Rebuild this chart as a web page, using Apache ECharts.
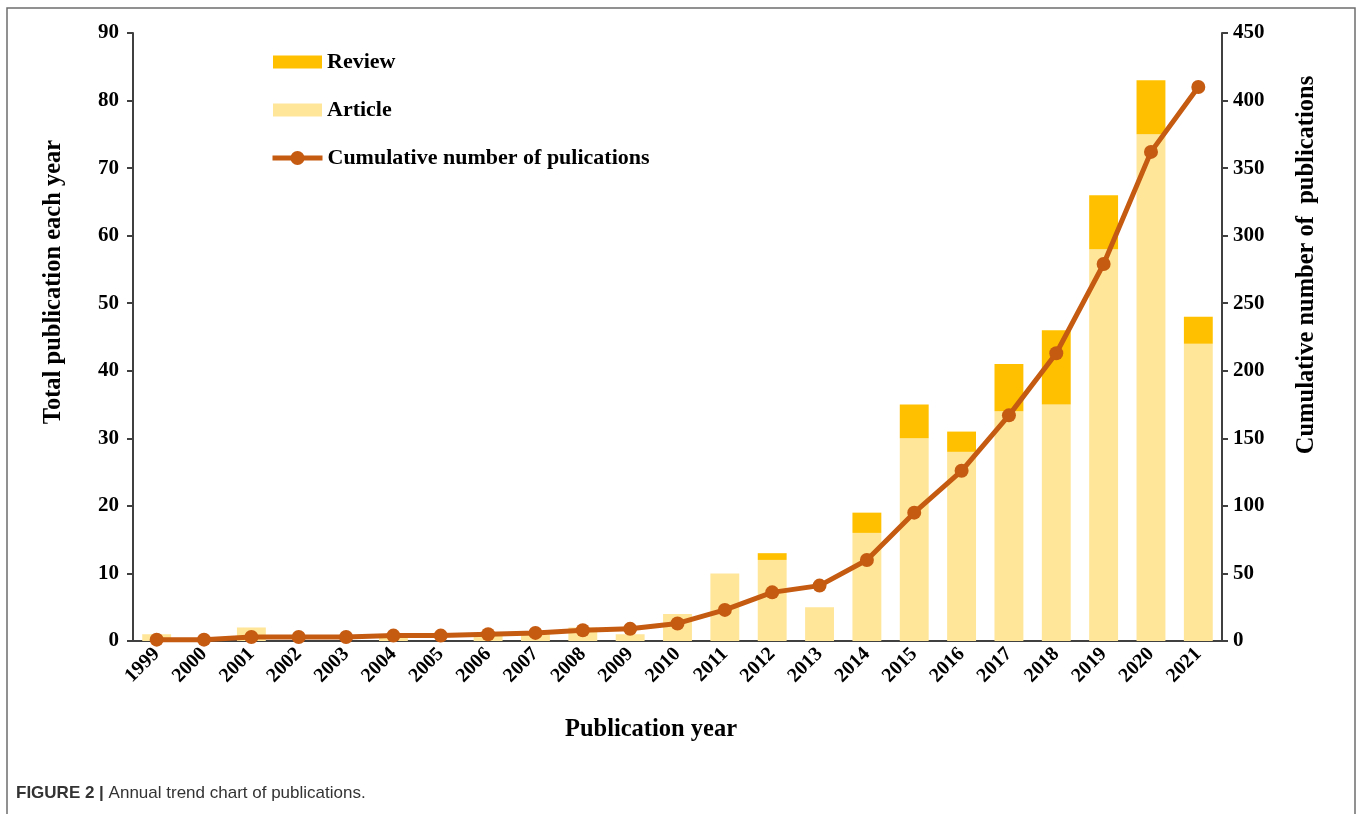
<!DOCTYPE html>
<html><head><meta charset="utf-8">
<script src="https://cdn.jsdelivr.net/npm/echarts@6/dist/echarts.min.js"></script>
<style>html,body{margin:0;padding:0;background:#fff}#c{width:1358px;height:814px}</style>
</head><body><div id="c"></div>
<script>
const years = ['1999','2000','2001','2002','2003','2004','2005','2006','2007','2008','2009','2010','2011','2012','2013','2014','2015','2016','2017','2018','2019','2020','2021'];
const article = [1,0,2,0,0,1,0,1,1,2,1,4,10,12,5,16,30,28,34,35,58,75,44];
const review  = [0,0,0,0,0,0,0,0,0,0,0,0,0,1,0,3,5,3,7,11,8,8,4];
const cumulative = [1,1,3,3,3,4,4,5,6,8,9,13,23,36,41,60,95,126,167,213,279,362,410];
const leftTicks = [0,90,10];
const rightTicks = [0,450,50];

const serif = '"Liberation Serif","Times New Roman",serif';
const axisCol = '#404040';
const legendText = {fontFamily:serif,fontWeight:'bold',fontSize:22,color:'#000'};
const chart = echarts.init(document.getElementById('c'));
chart.setOption({
  animation:false,
  backgroundColor:'#fff',
  grid:{left:133,right:136,top:33,bottom:173,containLabel:false},
  legend:[
    {orient:'vertical', left:273, top:51, padding:0, itemGap:26, itemWidth:49, itemHeight:13,
     textStyle:legendText,
     data:[{name:'Review',icon:'rect'},{name:'Article',icon:'rect'}]},
    {orient:'vertical', left:270, top:147, padding:0, itemWidth:50, itemHeight:17.5,
     textStyle:legendText,
     lineStyle:{width:5},
     data:[{name:'Cumulative number of pulications'}]}
  ],
  xAxis:{
    type:'category', data:years,
    axisLine:{lineStyle:{color:axisCol,width:2}},
    axisTick:{alignWithLabel:true,length:6,lineStyle:{color:axisCol,width:2}},
    axisLabel:{rotate:45,interval:0,fontFamily:serif,fontWeight:'bold',fontSize:20,color:'#000',margin:10}
  },
  yAxis:[
    {type:'value',min:leftTicks[0],max:leftTicks[1],interval:leftTicks[2],
     splitLine:{show:false},
     axisLine:{show:true,lineStyle:{color:axisCol,width:2}},
     axisTick:{show:true,length:6,lineStyle:{color:axisCol,width:2}},
     axisLabel:{fontFamily:serif,fontWeight:'bold',fontSize:21,color:'#000',margin:14}},
    {type:'value',min:rightTicks[0],max:rightTicks[1],interval:rightTicks[2],position:'right',
     splitLine:{show:false},
     axisLine:{show:true,lineStyle:{color:axisCol,width:2}},
     axisTick:{show:true,length:6,lineStyle:{color:axisCol,width:2}},
     axisLabel:{fontFamily:serif,fontWeight:'bold',fontSize:21,color:'#000',margin:11}}
  ],
  series:[
    {name:'Article',type:'bar',stack:'t',data:article,barWidth:'61%',itemStyle:{color:'#FFE699'}},
    {name:'Review',type:'bar',stack:'t',data:review,barWidth:'61%',itemStyle:{color:'#FFC000'}},
    {name:'Cumulative number of pulications',type:'line',yAxisIndex:1,data:cumulative,
     symbol:'circle',symbolSize:14,lineStyle:{color:'#C55A11',width:5},itemStyle:{color:'#C55A11'},z:5}
  ],
  graphic:[
    {type:'rect',shape:{x:7,y:8,width:1348,height:820},style:{fill:'none',stroke:'#6e6e6e',lineWidth:1.5},silent:true},
    {type:'text',x:54,y:282,rotation:Math.PI/2,style:{text:'Total publication each year',font:'bold 24.5px '+serif,fill:'#000',textAlign:'center',textVerticalAlign:'middle'}},
    {type:'text',x:1307,y:265,rotation:Math.PI/2,style:{text:'Cumulative number of  publications',font:'bold 24.5px '+serif,fill:'#000',textAlign:'center',textVerticalAlign:'middle'}},
    {type:'text',x:651,y:730,style:{text:'Publication year',font:'bold 24.5px '+serif,fill:'#000',textAlign:'center',textVerticalAlign:'middle'}},
    {type:'text',x:16,y:793,style:{rich:{b:{fontFamily:'"Liberation Sans",Arial,sans-serif',fontWeight:'bold',fontSize:17,fill:'#333'},n:{fontFamily:'"Liberation Sans",Arial,sans-serif',fontSize:17,fill:'#333'}},text:'{b|FIGURE 2 |}{n| Annual trend chart of publications.}',textVerticalAlign:'middle'}}
  ]
});
</script></body></html>
